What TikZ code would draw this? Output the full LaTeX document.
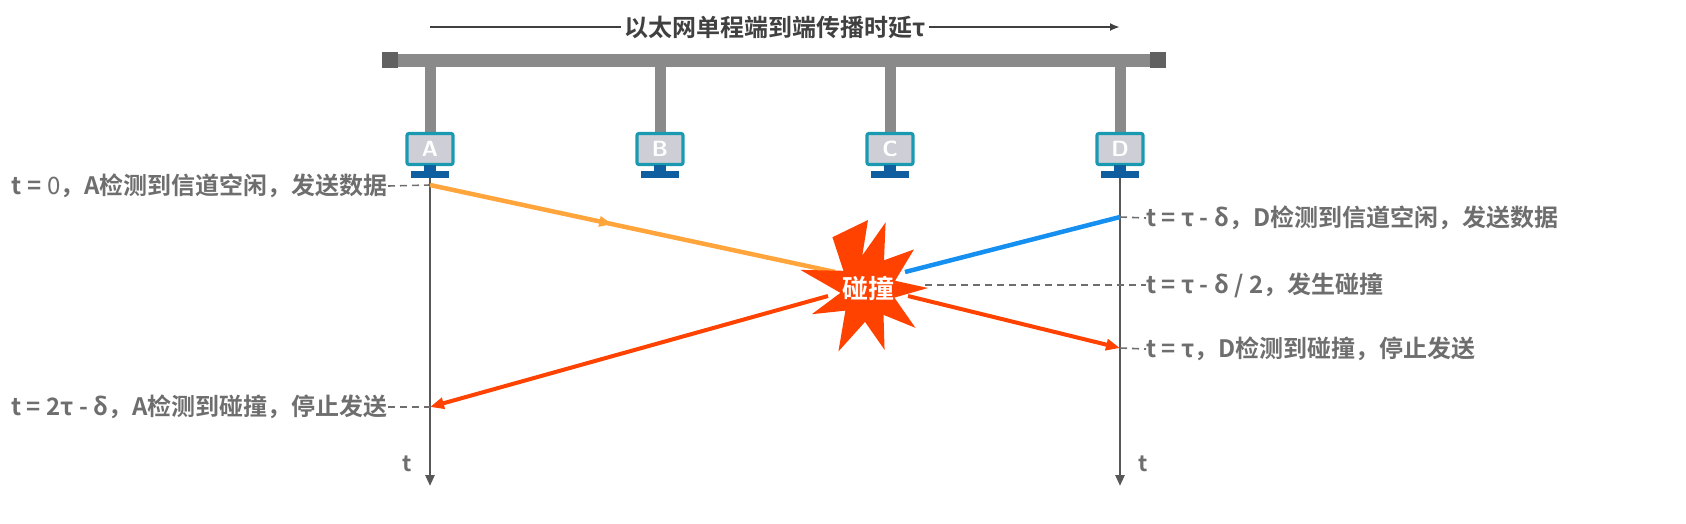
\documentclass[tikz,border=0pt]{standalone}
\usepackage{fontspec}
\setmainfont{Noto Sans CJK SC}
\newfontfamily\cjkb{Noto Sans CJK SC Bold}
\usetikzlibrary{arrows.meta,decorations.markings}
\definecolor{txt}{HTML}{6E6E6E}
\definecolor{bus}{HTML}{8A8A8A}
\definecolor{teal}{HTML}{1A9AB0}
\definecolor{scr}{HTML}{CDCED6}
\definecolor{stand}{HTML}{0F5FA0}
\definecolor{org}{HTML}{FFA53C}
\definecolor{blu}{HTML}{1590F0}
\definecolor{red}{HTML}{FF4200}
\tikzset{
 lbl/.style={font=\fontsize{24}{28}\selectfont\cjkb, text=txt, inner sep=0pt},
 dsh/.style={txt, line width=1.6pt, dash pattern=on 7pt off 5pt},
 tl/.style={draw=txt!80!black, line width=2.6pt, -{Triangle[length=11pt,width=9pt]}},
 drop/.style={bus, line width=11pt},
 midarrow/.style={postaction={decorate},decoration={markings,mark=at position #1 with {\arrow{Triangle[length=13pt,width=10pt]}}}},
}
\newcommand{\pc}[3]{%
 \draw[drop] (#1,60) -- (#1,134);
 \node[draw=teal, line width=3.2pt, fill=scr, rounded corners=2pt, minimum width=46pt, minimum height=31pt, inner sep=0pt, text=white, font=\fontsize{22}{22}\selectfont\bfseries\sffamily] (#3) at (#1,149) {#2};
 \fill[stand] (#1-6,165) rectangle (#1+6,171);
 \fill[stand] (#1-19,171) rectangle (#1+19,178);
}
\begin{document}
\begin{tikzpicture}[x=1pt,y=-1pt]
\useasboundingbox (0,0) rectangle (1686,523);
\node[font=\fontsize{24}{28}\selectfont\cjkb, text=black!75] (title) at (775,27) {以太网单程端到端传播时延τ};
\coordinate (tl0) at (430,27); \coordinate (tr0) at (1120,27);
\draw[line width=2pt, black!75] (tl0) -- (title.west);
\draw[line width=2pt, black!75, -{Latex[length=10pt,width=8pt]}] (title.east) -- (tr0);
\draw[bus, line width=13pt] (383,60) -- (1165,60);
\fill[bus!70!black] (382,52) rectangle (398,68);
\fill[bus!70!black] (1150,52) rectangle (1166,68);
\pc{430}{A}{A}
\pc{660}{B}{B}
\pc{890}{C}{C}
\pc{1120}{D}{D}
\coordinate (ta) at (430,178); \coordinate (tae) at (430,486);
\coordinate (td) at (1120,178); \coordinate (tde) at (1120,486);
\draw[tl] (ta) -- (tae);
\draw[tl] (td) -- (tde);
\node[font=\fontsize{22}{22}\selectfont\cjkb, text=txt] (tA) at (407,464) {t};
\node[font=\fontsize{22}{22}\selectfont\cjkb, text=txt] (tD) at (1143,464) {t};
\coordinate (a0) at (430,185);
\coordinate (d0) at (1120,217);
\coordinate (cl) at (835,272);
\coordinate (cr) at (905,272);
\coordinate (a1) at (430,407);
\coordinate (d1) at (1120,348);
\coordinate (cc) at (868,288);
\draw[org, line width=4.5pt, midarrow=0.45] (a0) -- (cl);
\draw[blu, line width=4.5pt] (d0) -- (cr);
\draw[red, line width=4pt, -{Triangle[length=14pt,width=11pt]}] (cc) ++(-40,8) -- (a1);
\draw[red, line width=4pt, -{Triangle[length=14pt,width=11pt]}] (cc) ++(40,8) -- (d1);
\fill[red] (868,220)
 \foreach \ang/\r in {100/33,75/68,60/32,40/60,15/28,0/60,-20/28,-40/62,-60/31,-75/64,-95/34,-115/70,-135/32,-155/62,-170/28,165/70,145/30,125/62}{ -- (868+\r*cos \ang, 288-\r*sin \ang)} -- cycle;
\node[font=\fontsize{26}{26}\selectfont\cjkb, text=white] (col) at (cc) {碰撞};
\node[lbl, anchor=east] (L1) at (388,186) {t = {\fontspec{Noto Sans CJK SC}0}，A检测到信道空闲，发送数据};
\draw[dsh] (L1.east) -- (a0);
\node[lbl, anchor=east] (L2) at (388,407) {t = 2τ - δ，A检测到碰撞，停止发送};
\draw[dsh] (L2.east) -- (a1);
\node[lbl, anchor=west] (R1) at (1146,218) {t = τ - δ，D检测到信道空闲，发送数据};
\draw[dsh] (d0) -- (R1.west);
\node[lbl, anchor=west] (R2) at (1146,285) {t = τ - δ / 2，发生碰撞};
\coordinate (cd) at (925,285);
\draw[dsh] (cd) -- (R2.west);
\node[lbl, anchor=west] (R3) at (1146,349) {t = τ，D检测到碰撞，停止发送};
\draw[dsh] (d1) -- (R3.west);
\end{tikzpicture}
\end{document}
